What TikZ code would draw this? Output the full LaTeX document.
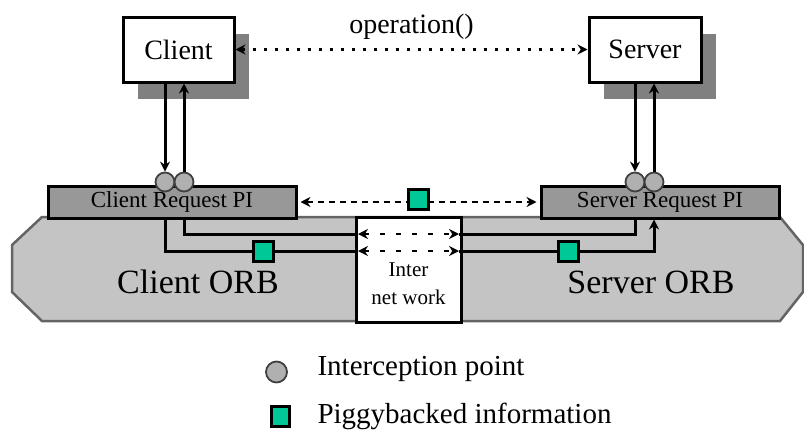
\documentclass[tikz,border=0pt]{standalone}
\usepackage{xcolor}
\usepackage{fontspec}
\setmainfont{Liberation Serif}
\usepackage{tikz}
\usetikzlibrary{shapes,arrows,positioning,calc,shadows,arrows.meta}

\definecolor{shadowgray}{RGB}{128,128,128}
\definecolor{pigray}{RGB}{152,152,152}
\definecolor{orbgray}{RGB}{196,196,196}
\definecolor{orbedge}{RGB}{100,100,100}
\definecolor{pointgray}{RGB}{176,176,176}
\definecolor{piggygreen}{RGB}{0,200,150}

\begin{document}
\begin{tikzpicture}[
    x=1pt, y=-1pt,
    >={Stealth[length=10pt,width=10pt]},
    endpoint/.style={rectangle, draw, line width=3pt, fill=white, inner sep=0pt,
        font=\fontsize{28}{30}\selectfont,
        drop shadow={shadow xshift=15pt, shadow yshift=-17pt, fill=shadowgray, opacity=1}},
    pi/.style={rectangle, draw, line width=3pt, fill=pigray, inner sep=0pt,
        minimum height=32pt, font=\fontsize{23}{25}\selectfont},
    orb/.style={draw=orbedge, line width=2.5pt, fill=orbgray},
    orbtext/.style={font=\fontsize{34}{36}\selectfont},
    netbox/.style={rectangle, draw, line width=3pt, fill=white, minimum size=105pt, inner sep=0pt},
    ipoint/.style={circle, draw=black!75, line width=1.8pt, fill=pointgray, minimum size=19pt, inner sep=0pt},
    piggy/.style={rectangle, draw, line width=3pt, fill=piggygreen, minimum size=20pt, inner sep=0pt},
    arrow/.style={line width=3pt, ->},
    link/.style={line width=3pt},
    legend/.style={anchor=base west, font=\fontsize{29}{31}\selectfont}
]
    \useasboundingbox (0,0) rectangle (804,429);

    % ORB body
    \draw[orb] (42,217) -- (780,217) -- (803,245) -- (803,292) -- (780,321)
        -- (42,321) -- (12,292) -- (12,245) -- cycle;
    \node[orbtext] (CO) at (198,282) {Client ORB};
    \node[orbtext] (SO) at (651,282) {Server ORB};

    % client and server
    \node[endpoint, minimum width=111pt, minimum height=65pt] (C) at (178.5,49.5) {Client};
    \node[endpoint, minimum width=112pt, minimum height=65pt] (S) at (645,49.5) {Server};

    % request interceptors
    \node[pi, minimum width=248pt] (CP) at (172,202) {Client Request PI};
    \node[pi, minimum width=238pt] (SP) at (660,202) {Server Request PI};

    % network
    \node[netbox] (N) at (408.5,269.5) {};
    \node[font=\fontsize{21}{28}\selectfont, align=center] (NT) at (408.5,284) {Inter\\net work};
    \coordinate (NL1) at (358,234);
    \coordinate (NR1) at (459,234);
    \coordinate (NL2) at (358,251);
    \coordinate (NR2) at (459,251);

    % interception points
    \node[ipoint] (C1) at (165,182) {};
    \node[ipoint] (C2) at (184,182) {};
    \node[ipoint] (S1) at (635,182) {};
    \node[ipoint] (S2) at (654,182) {};

    \draw[arrow] (C.south -| C1) -- (C1.north);
    \draw[arrow] (C2.north) -- (C.south -| C2);
    \draw[arrow] (S.south -| S1) -- (S1.north);
    \draw[arrow] (S2.north) -- (S.south -| S2);

    % operation() call
    \draw[line width=2.5pt, <->, dash pattern=on 3pt off 8pt] (C.east) -- (S.west)
        node[midway, above=5pt, font=\fontsize{28}{30}\selectfont] (OP) {operation()};

    % ORB paths
    \draw[link] (CP.south -| C1) |- (NL2);
    \draw[link] (CP.south -| C2) |- (NL1);
    \draw[link] (SP.south -| S1) |- (NR1);
    \draw[arrow] (NR2) -| (SP.south -| S2);
    \draw[line width=2.5pt, <->, dash pattern=on 5pt off 11pt] (NL1) -- (NR1);
    \draw[line width=2.5pt, <->, dash pattern=on 5pt off 11pt] (NL2) -- (NR2);

    % service context between interceptors
    \draw[line width=2.5pt, <->, dash pattern=on 6pt off 5pt] ([xshift=3pt]CP.east) -- ([xshift=-3pt]SP.west);
    \node[piggy] (P3) at (418,199) {};
    \node[piggy] (P1) at (263,251) {};
    \node[piggy] (P2) at (568,251) {};

    % legend
    \node[ipoint, minimum size=21pt] (LI) at (276.5,372) {};
    \node[legend] (LIT) at (314,375) {Interception point};
    \node[piggy, minimum width=18pt, minimum height=20pt] (LP) at (280.5,416.5) {};
    \node[legend] (LPT) at (314,423) {Piggybacked information};
\end{tikzpicture}
\end{document}
